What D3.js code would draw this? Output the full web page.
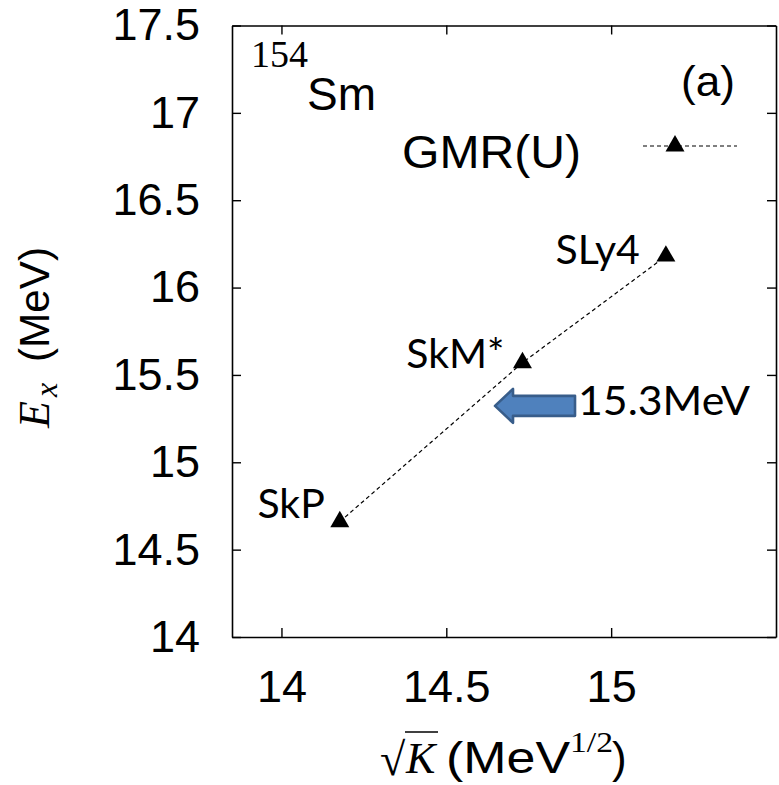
<!DOCTYPE html>
<html>
<head>
<meta charset="utf-8">
<script src="https://cdn.jsdelivr.net/npm/d3@7"></script>
<style>
  html, body { margin: 0; padding: 0; background: #fff; }
  svg { display: block; }
</style>
</head>
<body>
<svg id="chart" width="779" height="785"></svg>
<script>
// Skyrme forces: sqrt of incompressibility K (MeV^1/2) and GMR energy Ex (MeV)
const forces = ["SkP", "SkM*", "SLy4"];
const sqrtK = [14.177, 14.731, 15.166];
const ex = [14.66, 15.57, 16.18];
const expEnergy = 15.3;            // measured value shown by the arrow
const xTicks = [14, 14.5, 15];
const yTicks = [14, 14.5, 15, 15.5, 16, 16.5, 17, 17.5];
const legendLabel = "GMR(U)";

const svg = d3.select("#chart");
const M = { left: 232, right: 776, top: 25.5, bottom: 637 };

const x = d3.scaleLinear().domain([13.85, 15.5]).range([M.left, M.right]);
const y = d3.scaleLinear().domain([14, 17.5]).range([M.bottom, M.top]);

const SANS = "'Liberation Sans', Arial, Helvetica, sans-serif";
const SERIF = "'Liberation Serif', 'Times New Roman', serif";
const HUM = "Lato, 'Open Sans', sans-serif";

// axes with inward ticks on all four sides
const tick = -9;
const gB = svg.append("g").attr("transform", `translate(0,${M.bottom})`)
  .call(d3.axisBottom(x).tickValues(xTicks).tickSize(tick).tickSizeOuter(0).tickPadding(33)
    .tickFormat(d3.format("")));
const gT = svg.append("g").attr("transform", `translate(0,${M.top})`)
  .call(d3.axisTop(x).tickValues(xTicks).tickSize(tick).tickSizeOuter(0).tickFormat(""));
const gL = svg.append("g").attr("transform", `translate(${M.left},0)`)
  .call(d3.axisLeft(y).tickValues(yTicks).tickSize(tick).tickSizeOuter(0).tickPadding(32)
    .tickFormat(d3.format("")));
const gR = svg.append("g").attr("transform", `translate(${M.right},0)`)
  .call(d3.axisRight(y).tickValues(yTicks).tickSize(tick).tickSizeOuter(0).tickFormat(""));

[gB, gT, gL, gR].forEach(g => {
  g.select(".domain").attr("stroke", "#000").attr("stroke-width", 1.6);
  g.selectAll(".tick line").attr("stroke", "#000").attr("stroke-width", 1.4);
  g.selectAll(".tick text").attr("fill", "#000").style("font-family", SANS).style("font-size", "45px");
});

// dotted connecting line through the three forces
const pts = forces.map((f, i) => ({ name: f, x: sqrtK[i], y: ex[i] }));
svg.append("path")
  .datum(pts)
  .attr("fill", "none")
  .attr("stroke", "#000")
  .attr("stroke-width", 1.2)
  .attr("stroke-dasharray", "4,3")
  .attr("d", d3.line().x(d => x(d.x)).y(d => y(d.y)));

const tri = d3.symbol().type(d3.symbolTriangle).size(156);
svg.selectAll("path.pt").data(pts).enter().append("path")
  .attr("class", "pt")
  .attr("d", tri)
  .attr("transform", d => `translate(${x(d.x)},${y(d.y)})`)
  .attr("fill", "#000");

// force names, placed to the upper left of each point
const labelOffset = { "SkP": [-15, -4], "SkM*": [-18, 5], "SLy4": [-26, 7.5] };
svg.selectAll("text.force").data(pts).enter().append("text")
  .attr("class", "force")
  .attr("x", d => x(d.x) + labelOffset[d.name][0])
  .attr("y", d => y(d.y) + labelOffset[d.name][1])
  .attr("text-anchor", "end")
  .style("font-family", HUM)
  .style("font-size", "41px")
  .text(d => d.name);

// block arrow marking the measured energy
const ay = y(expEnergy) - 4;
const tipX = 495, headBack = 513, tailX = 575, headH = 17, shaftH = 10;
svg.append("path")
  .attr("d", `M${tipX},${ay} L${headBack},${ay - headH} L${headBack},${ay - shaftH} L${tailX},${ay - shaftH}
              L${tailX},${ay + shaftH} L${headBack},${ay + shaftH} L${headBack},${ay + headH} Z`)
  .attr("fill", "#4F81BD")
  .attr("stroke", "#385D8A")
  .attr("stroke-width", 2.6)
  .attr("stroke-linejoin", "round");
svg.append("text")
  .attr("x", 578).attr("y", ay + 9)
  .attr("textLength", 172).attr("lengthAdjust", "spacingAndGlyphs")
  .style("font-family", HUM).style("font-size", "41px")
  .text(expEnergy + "MeV");

// legend key
const ly = 146;
svg.append("line")
  .attr("x1", 643).attr("x2", 737).attr("y1", ly).attr("y2", ly)
  .attr("stroke", "#000").attr("stroke-width", 1.2).attr("stroke-dasharray", "4,3");
svg.append("path").attr("d", tri).attr("transform", `translate(675,${ly})`).attr("fill", "#000");
svg.append("text")
  .attr("x", 402).attr("y", 168)
  .attr("textLength", 179).attr("lengthAdjust", "spacingAndGlyphs")
  .style("font-family", SANS).style("font-size", "46px")
  .text(legendLabel);

// nucleus label and panel tag
svg.append("text").attr("x", 251).attr("y", 67)
  .style("font-family", SERIF).style("font-size", "38px").text("154");
svg.append("text").attr("x", 307).attr("y", 110)
  .style("font-family", SANS).style("font-size", "46px").text("Sm");

svg.append("text")
  .attr("x", 681).attr("y", 96)
  .attr("textLength", 54).attr("lengthAdjust", "spacingAndGlyphs")
  .style("font-family", SANS).style("font-size", "42px")
  .text("(a)");

// y-axis title: E_x (MeV)
const yt = svg.append("g").attr("transform", "translate(49,428) rotate(-90)");
yt.append("text").attr("x", 0).attr("y", 0)
  .style("font-family", SERIF).style("font-style", "italic").style("font-size", "44px").text("E");
yt.append("text").attr("x", 31).attr("y", 8)
  .style("font-family", SERIF).style("font-style", "italic").style("font-size", "32px").text("x");
yt.append("text").attr("x", 66).attr("y", 0)
  .attr("textLength", 115).attr("lengthAdjust", "spacingAndGlyphs")
  .style("font-family", SANS).style("font-size", "43px").text("(MeV)");

// x-axis title: sqrt(K) (MeV^1/2)
const xt = svg.append("g");
xt.append("text").attr("x", 380).attr("y", 775)
  .style("font-family", SERIF).style("font-size", "46px").text("\u221A");
xt.append("text").attr("x", 406).attr("y", 773)
  .style("font-family", SERIF).style("font-style", "italic").style("font-size", "44px").text("K");
xt.append("text").attr("x", 446).attr("y", 773)
  .attr("textLength", 124).attr("lengthAdjust", "spacingAndGlyphs")
  .style("font-family", SANS).style("font-size", "44px").text("(MeV");
xt.append("text").attr("x", 570).attr("y", 752)
  .attr("textLength", 43).attr("lengthAdjust", "spacingAndGlyphs")
  .style("font-family", SERIF).style("font-size", "29px").text("1/2");
xt.append("text").attr("x", 612).attr("y", 773)
  .style("font-family", SANS).style("font-size", "44px").text(")");
xt.append("line")
  .attr("x1", 405).attr("x2", 438).attr("y1", 732).attr("y2", 732)
  .attr("stroke", "#000").attr("stroke-width", 1.4);
</script>
</body>
</html>
